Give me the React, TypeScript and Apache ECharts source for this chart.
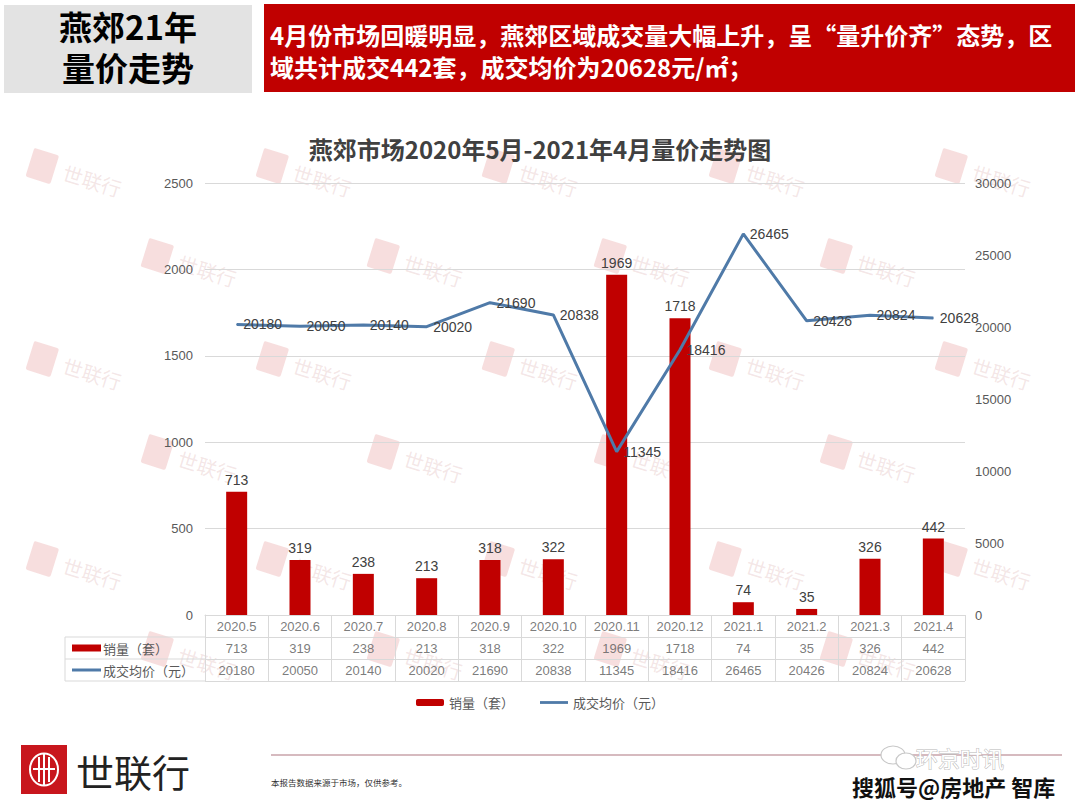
import React, { useEffect, useRef } from "react";
import * as echarts from "echarts";

const categories = ["2020.5", "2020.6", "2020.7", "2020.8", "2020.9", "2020.10", "2020.11", "2020.12", "2021.1", "2021.2", "2021.3", "2021.4"];
const salesValues = [713, 319, 238, 213, 318, 322, 1969, 1718, 74, 35, 326, 442];
const priceValues = [20180, 20050, 20140, 20020, 21690, 20838, 11345, 18416, 26465, 20426, 20824, 20628];
const salesName = "销量（套）";
const priceName = "成交均价（元）";
const chartTitle = "燕郊市场2020年5月-2021年4月量价走势图";
const headLine1 = "燕郊21年";
const headLine2 = "量价走势";
const descLine1 = "4月份市场回暖明显，燕郊区域成交量大幅上升，呈“量升价齐”态势，区";
const descLine2 = "域共计成交442套，成交均价为20628元/㎡；";
const footNote = "本报告数据来源于市场，仅供参考。";

const GL = 205;
const GR = 965;
const GT = 183;
const GB = 615;
const ROW = 22;
const RED = "#c00000";
const BLUE = "#4f7aa8";
const CJK = "'Noto Sans CJK SC', 'Noto Sans', sans-serif";
const NUM = "'Liberation Sans', 'Noto Sans CJK SC', sans-serif";

function watermarks() {
  const rowsY = [167, 257, 360, 453, 560, 650];
  const colsA = [42, 272, 498, 725, 951];
  const colsB = [157, 383, 610, 836];
  const out: any[] = [];
  rowsY.forEach((y, r) => {
    const cols = r % 2 === 0 ? colsA : colsB;
    cols.forEach((x) => {
      out.push({
        type: "group",
        x,
        y,
        rotation: -0.3,
        z: -10,
        silent: true,
        children: [
          { type: "rect", shape: { x: -13, y: -16, width: 26, height: 30, r: 2 }, style: { fill: "rgba(214,90,90,0.2)" } },
          { type: "text", x: 22, y: -2, style: { text: "世联行", font: `20px ${CJK}`, fill: "rgba(200,130,130,0.2)", verticalAlign: "middle" } },
        ],
      });
    });
  });
  return out;
}

export default function App() {
  const ref = useRef<HTMLDivElement>(null);
  useEffect(() => {
    if (!ref.current) return;
    const chart = echarts.init(ref.current, undefined, { renderer: "svg" });
    const tableData: any[] = [];
    categories.forEach((c, i) => {
      tableData.push([i, 0, c]);
      tableData.push([i, 1, String(salesValues[i])]);
      tableData.push([i, 2, String(priceValues[i])]);
    });
    const option: any = {
      animation: false,
      backgroundColor: "#ffffff",
      title: {
        text: chartTitle,
        left: "center",
        top: 131,
        textStyle: { fontFamily: CJK, fontSize: 24, fontWeight: "bold", color: "#404040" },
      },
      legend: {
        data: [{ name: salesName }, { name: priceName, icon: "path://M0,0H100V10H0Z" }],
        left: "center",
        top: 691,
        itemWidth: 28,
        itemHeight: 7,
        itemGap: 26,
        textStyle: { fontFamily: CJK, fontSize: 13, color: "#595959" },
      },
      grid: [
        { left: GL, top: GT, width: GR - GL, height: GB - GT },
        { left: GL, top: GB, width: GR - GL, height: ROW * 3 },
      ],
      xAxis: [
        {
          type: "category",
          gridIndex: 0,
          data: categories,
          axisLine: { show: false },
          axisTick: { show: false },
          axisLabel: { show: false },
        },
        {
          type: "category",
          gridIndex: 1,
          data: categories,
          position: "top",
          axisLine: { show: true, lineStyle: { color: "#d9d9d9" } },
          axisTick: { show: false },
          axisLabel: { show: false },
          splitLine: { show: true, interval: 0, lineStyle: { color: "#d9d9d9" } },
        },
      ],
      yAxis: [
        {
          type: "value",
          gridIndex: 0,
          min: 0,
          max: 2500,
          interval: 500,
          axisLine: { show: false },
          axisTick: { show: false },
          axisLabel: { margin: 12, fontFamily: NUM, fontSize: 13, color: "#595959", formatter: (v: number) => String(v) },
          splitLine: { lineStyle: { color: "#d9d9d9" } },
        },
        {
          type: "value",
          gridIndex: 0,
          position: "right",
          min: 0,
          max: 30000,
          interval: 5000,
          axisLine: { show: false },
          axisTick: { show: false },
          axisLabel: { margin: 10, fontFamily: NUM, fontSize: 13, color: "#595959", formatter: (v: number) => String(v) },
          splitLine: { show: false },
        },
        {
          type: "category",
          gridIndex: 1,
          data: ["0", "1", "2"],
          inverse: true,
          axisLine: { show: true, lineStyle: { color: "#d9d9d9" } },
          axisTick: { show: false },
          axisLabel: { show: false },
          splitLine: { show: true, interval: 0, lineStyle: { color: "#d9d9d9" } },
        },
      ],
      series: [
        {
          name: salesName,
          type: "bar",
          xAxisIndex: 0,
          yAxisIndex: 0,
          data: salesValues,
          barWidth: 21,
          itemStyle: { color: RED },
          label: { show: true, position: "top", distance: 5, fontFamily: NUM, fontSize: 14, color: "#404040" },
          z: 2,
        },
        {
          name: priceName,
          type: "line",
          xAxisIndex: 0,
          yAxisIndex: 1,
          data: priceValues,
          symbol: "circle",
          symbolSize: 1,
          itemStyle: { color: BLUE },
          lineStyle: { color: BLUE, width: 3 },
          label: { show: true, position: "right", distance: 6, fontFamily: NUM, fontSize: 14, color: "#404040" },
          z: 3,
        },
        {
          type: "scatter",
          xAxisIndex: 1,
          yAxisIndex: 2,
          data: tableData,
          symbolSize: 0,
          silent: true,
          label: {
            show: true,
            position: "inside",
            formatter: (p: any) => p.value[2],
            fontFamily: NUM,
            fontSize: 13,
            color: "#595959",
          },
        },
      ],
      graphic: [
        ...watermarks(),
        // header
        { type: "rect", shape: { x: 4, y: 5, width: 248, height: 88 }, style: { fill: "#e3e3e3" } },
        { type: "text", x: 128, y: 26, style: { text: headLine1, font: `bold 33px ${CJK}`, fill: "#000", align: "center", verticalAlign: "middle", lineHeight: 33 } },
        { type: "text", x: 128, y: 67, style: { text: headLine2, font: `bold 33px ${CJK}`, fill: "#000", align: "center", verticalAlign: "middle", lineHeight: 33 } },
        { type: "rect", shape: { x: 264, y: 4, width: 811, height: 88 }, style: { fill: RED } },
        { type: "text", x: 270, y: 34, style: { text: descLine1, font: `bold 24px ${CJK}`, fill: "#fff", verticalAlign: "middle", lineHeight: 24 } },
        { type: "text", x: 270, y: 66, style: { text: descLine2, font: `bold 24px ${CJK}`, fill: "#fff", verticalAlign: "middle", lineHeight: 24 } },
        // table left column
        { type: "line", shape: { x1: 65, y1: GB + ROW, x2: GL, y2: GB + ROW }, style: { stroke: "#d9d9d9", lineWidth: 1 } },
        { type: "line", shape: { x1: 65, y1: GB + ROW * 2, x2: GL, y2: GB + ROW * 2 }, style: { stroke: "#d9d9d9", lineWidth: 1 } },
        { type: "line", shape: { x1: 65, y1: GB + ROW * 3, x2: GL, y2: GB + ROW * 3 }, style: { stroke: "#d9d9d9", lineWidth: 1 } },
        { type: "line", shape: { x1: 65, y1: GB + ROW, x2: 65, y2: GB + ROW * 3 }, style: { stroke: "#d9d9d9", lineWidth: 1 } },
        { type: "rect", shape: { x: 72, y: GB + ROW * 1.5 - 3.5, width: 29, height: 7 }, style: { fill: RED } },
        { type: "text", x: 103, y: GB + ROW * 1.5, style: { text: salesName, font: `13px ${CJK}`, fill: "#595959", verticalAlign: "middle" } },
        { type: "line", shape: { x1: 72, y1: GB + ROW * 2.5, x2: 101, y2: GB + ROW * 2.5 }, style: { stroke: BLUE, lineWidth: 3 } },
        { type: "text", x: 103, y: GB + ROW * 2.5, style: { text: priceName, font: `13px ${CJK}`, fill: "#595959", verticalAlign: "middle" } },
        // footer
        { type: "rect", shape: { x: 21, y: 745, width: 46, height: 49 }, style: { fill: "#c8161d" } },
        { type: "ellipse", shape: { cx: 44, cy: 769.5, rx: 14, ry: 16 }, style: { fill: "none", stroke: "#fff", lineWidth: 2 } },
        { type: "line", shape: { x1: 39, y1: 757, x2: 39, y2: 782 }, style: { stroke: "#fff", lineWidth: 2 } },
        { type: "line", shape: { x1: 44, y1: 754, x2: 44, y2: 785 }, style: { stroke: "#fff", lineWidth: 2 } },
        { type: "line", shape: { x1: 49, y1: 757, x2: 49, y2: 782 }, style: { stroke: "#fff", lineWidth: 2 } },
        { type: "line", shape: { x1: 33, y1: 769, x2: 55, y2: 769 }, style: { stroke: "#fff", lineWidth: 2 } },
        { type: "text", x: 76, y: 770, style: { text: "世联行", font: `38px ${CJK}`, fill: "#222", verticalAlign: "middle" } },
        { type: "line", shape: { x1: 271, y1: 755, x2: 1062, y2: 755 }, style: { stroke: "#c9a3aa", lineWidth: 1.5 } },
        { type: "text", x: 271, y: 782, style: { text: footNote, font: `8.5px ${CJK}`, fill: "#333", verticalAlign: "middle" } },
        { type: "ellipse", shape: { cx: 893, cy: 755, rx: 12, ry: 9 }, style: { fill: "#fff", stroke: "#c8c8c8", lineWidth: 1.2 } },
        { type: "ellipse", shape: { cx: 906, cy: 761, rx: 10, ry: 8 }, style: { fill: "#fff", stroke: "#c8c8c8", lineWidth: 1.2 } },
        { type: "text", x: 916, y: 757, style: { text: "环京时讯", font: `22px ${CJK}`, fill: "#fff", stroke: "#b8b8b8", lineWidth: 1, verticalAlign: "middle", lineHeight: 22 } },
        { type: "text", x: 852, y: 786, style: { text: "搜狐号@房地产 智库", font: `bold 22px ${CJK}`, fill: "#111", stroke: "#fff", lineWidth: 2, verticalAlign: "middle", lineHeight: 22 } },
      ],
    };
    chart.setOption(option);
    return () => chart.dispose();
  }, []);
  return <div ref={ref} style={{ position: "fixed", left: 0, top: 0, width: 1080, height: 810, background: "#fff" }} />;
}
